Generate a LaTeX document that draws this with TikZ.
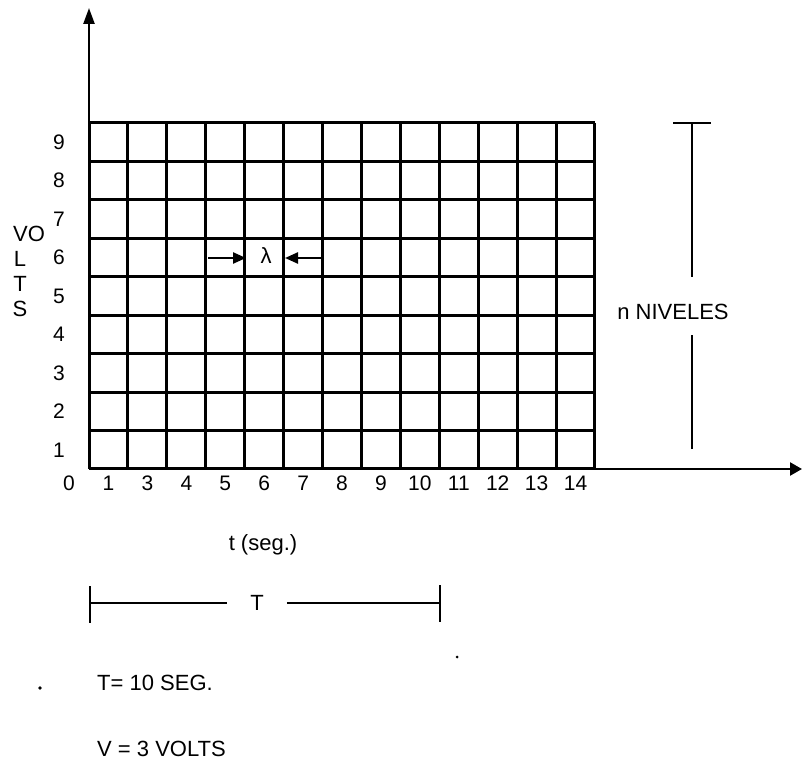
\documentclass[tikz,border=0pt]{standalone}
\usepackage{fontspec}
\setmainfont{Liberation Sans}
\usetikzlibrary{arrows.meta}

\begin{document}
\begin{tikzpicture}[x=1pt, y=-1pt, >={Triangle[length=16pt, width=11pt]},
    rejilla/.style={line width=3pt},
    eje/.style={line width=2.4pt},
    cota/.style={line width=2.6pt},
    flecha/.style={line width=2.4pt, -{Triangle[length=13pt, width=11pt]}},
    digito/.style={font=\fontsize{21}{21}\selectfont, inner sep=0pt},
    texto/.style={font=\fontsize{22}{22}\selectfont, inner sep=0pt}]

    \useasboundingbox (0,0) rectangle (802,767);

    % Rejilla de 13 x 9
    \foreach \i in {0,...,13}{
        \draw[rejilla] ({89+\i*38.92},123) -- ({89+\i*38.92},469);
    }
    \foreach \j in {0,...,9}{
        \draw[rejilla] (89,{123+\j*38.44}) -- (595,{123+\j*38.44});
    }

    % Ejes
    \coordinate (origen) at (89,469);
    \coordinate (ytope) at (89,8);
    \coordinate (xfin) at (802,469);
    \draw[eje, ->] (origen) -- (ytope);
    \draw[eje, -{Triangle[length=12pt, width=13pt]}] (origen) -- (xfin);

    % Niveles de voltaje
    \foreach \v in {1,...,9}{
        \node[digito] (v\v) at (59,{469-19.2-(\v-1)*38.44}) {\v};
    }
    \node[digito] (cero) at (69,483) {0};

    % Tiempos
    \foreach \t [count=\k from 0] in {1,3,4,5,6,7,8,9,10,11,12,13,14}{
        \node[digito] (t\t) at ({108.5+\k*38.92},483) {\t};
    }

    % Rotulo vertical
    \node[texto] (vo) at (29,234) {VO};
    \node[texto] (letraL) at (20,259) {L};
    \node[texto] (letraT) at (20,284) {T};
    \node[texto] (letraS) at (20,309) {S};

    % Lambda
    \coordinate (lamizq) at (208,258);
    \coordinate (lamder) at (324,258);
    \node[texto] (lam) at (266,256) {λ};
    \draw[flecha] (lamizq) -- (246,258);
    \draw[flecha] (lamder) -- (285,258);

    % n niveles
    \coordinate (nsup) at (692,123);
    \coordinate (ninf) at (692,449);
    \node[texto] (niveles) at (673,312) {n NIVELES};
    \draw[cota] (673,123) -- (711,123);
    \draw[cota] (nsup) -- (692,277);
    \draw[cota] (ninf) -- (692,335);

    % t (seg.)
    \node[texto] (tseg) at (263,545) {t (seg.)};

    % Periodo T
    \coordinate (Tizq) at (90,603);
    \coordinate (Tder) at (440,603);
    \node[texto, inner xsep=23pt] (periodo) at (257,603) {T};
    \draw[cota] (Tizq) -- (periodo.west);
    \draw[cota] (periodo.east) -- (Tder);
    \draw[cota] (90,586) -- (90,623);
    \draw[cota] (440,585) -- (440,622);

    % Datos
    \node[texto, anchor=base west] (datoT) at (97,690) {T= 10 SEG.};
    \node[texto, anchor=base west] (datoV) at (97,756) {V = 3 VOLTS};
    \fill (40,688) circle (1.8);
    \fill (457,657) circle (1.5);
\end{tikzpicture}
\end{document}
